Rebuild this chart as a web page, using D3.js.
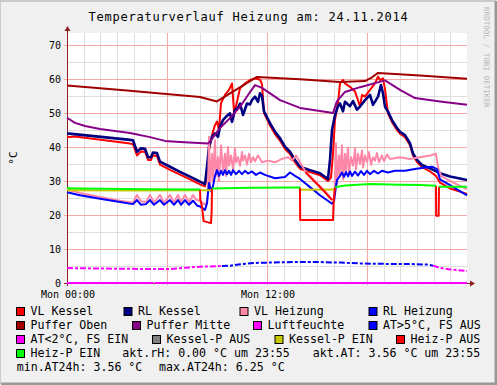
<!DOCTYPE html>
<html>
<head>
<meta charset="utf-8">
<script src="https://cdn.jsdelivr.net/npm/d3@7"></script>
<style>
  body { margin: 0; background: #fff; }
  text { font-family: "DejaVu Sans Mono", monospace; }
</style>
</head>
<body>
<div id="chart"></div>
<script>
const width = 497;
const height = 385;

// data: [hour, °C], null = no value
const vlKessel = [[0,42.9],[0.48,43.1],[3.78,41.0],[3.96,40.8],[4.2,37.5],[4.44,38.7],[4.68,38.6],[4.86,36.2],[5.04,36.2],[5.16,37.6],[5.4,37.3],[5.58,34.8],[6.18,33.3],[6.78,31.9],[7.38,30.5],[7.98,29.0],[8.28,28.4],[8.4,33.0],[8.52,39.0],[8.7,43.5],[8.88,46.5],[9.0,47.5],[9.12,45.0],[9.24,52.9],[9.48,55.3],[9.72,56.8],[9.9,58.7],[10.02,50.5],[10.14,52.0],[10.38,57.3],[10.68,58.7],[10.98,59.7],[11.28,60.2],[11.58,59.8],[11.7,58.5],[11.82,50.0],[12.18,46.3],[12.48,43.8],[12.78,41.9],[13.08,39.4],[13.38,37.9],[13.68,35.5],[13.98,33.6],[14.58,32.6],[15.18,31.7],[15.66,30.0],[15.84,31.0],[15.96,38.0],[16.08,48.0],[16.26,53.0],[16.38,58.7],[16.56,59.7],[16.68,58.7],[16.98,57.7],[17.28,56.3],[17.46,53.8],[17.58,51.9],[17.7,55.3],[17.88,54.8],[18.18,56.8],[18.48,58.7],[18.66,60.7],[18.78,59.7],[18.96,60.2],[19.08,57.0],[19.26,49.8],[19.5,47.3],[19.8,45.0],[19.98,43.9],[20.28,42.9],[20.58,40.5],[20.76,37.5],[21.0,35.6],[21.3,34.1],[21.78,32.8],[22.14,31.5],[22.38,29.5],[22.98,27.8],[24,26.2]];
const rlKessel = [[0,44.0],[3.78,42.1],[3.96,42.0],[4.2,38.6],[4.44,39.6],[4.68,39.5],[4.86,37.0],[5.04,37.0],[5.16,38.4],[5.4,38.2],[5.58,35.7],[6.18,34.2],[6.78,32.7],[7.38,31.3],[7.98,29.8],[8.28,29.1],[8.4,34.2],[8.52,40.1],[8.7,43.0],[8.88,44.0],[9.06,43.0],[9.18,46.0],[9.36,47.9],[9.54,48.9],[9.78,49.9],[9.9,47.4],[10.08,50.9],[10.26,51.5],[10.38,52.8],[10.56,49.4],[10.8,52.8],[10.98,52.5],[11.1,53.8],[11.28,54.8],[11.46,53.3],[11.58,55.8],[11.7,55.0],[11.82,50.5],[12.18,47.0],[12.48,44.5],[12.78,42.6],[13.08,40.1],[13.38,38.6],[13.68,36.2],[13.98,34.2],[14.58,33.2],[15.18,32.3],[15.66,30.6],[15.78,36.2],[15.9,45.0],[16.08,49.4],[16.26,52.0],[16.38,52.8],[16.56,50.5],[16.68,53.3],[16.98,52.0],[17.16,53.5],[17.4,51.0],[17.58,51.9],[17.88,53.8],[18.18,55.3],[18.36,52.4],[18.66,54.8],[18.84,58.2],[18.96,55.8],[19.08,51.9],[19.26,50.4],[19.5,47.9],[19.8,45.6],[19.98,44.5],[20.28,43.5],[20.58,41.1],[20.76,38.1],[21.0,36.2],[21.3,34.7],[21.78,33.7],[22.38,32.3],[22.98,31.3],[24,30.3]];
const vlHeizung = [[0,27.4],[0.78,26.5],[1.98,25.3],[3.18,24.2],[3.96,23.6],[4.2,25.9],[4.44,24.0],[4.74,23.8],[4.98,25.9],[5.22,23.6],[5.58,25.9],[5.82,23.6],[6.18,25.9],[6.42,23.6],[6.66,25.9],[6.84,23.8],[7.08,25.9],[7.32,23.8],[7.56,25.9],[7.74,24.5],[7.98,24.2],[8.28,23.0],[8.4,24.0],[8.46,27.0],[8.52,43.0],[8.58,28.5],[8.7,38.0],[8.76,30.0],[8.88,42.0],[8.94,31.5],[9.06,37.0],[9.12,30.0],[9.24,40.5],[9.36,33.0],[9.48,38.0],[9.54,31.5],[9.66,40.0],[9.72,34.5],[9.84,37.5],[9.96,33.5],[10.08,39.5],[10.14,35.5],[10.26,37.0],[10.38,34.5],[10.5,38.5],[10.56,36.0],[10.68,37.5],[10.8,34.8],[10.92,38.0],[11.04,35.5],[11.16,37.0],[11.28,35.8],[11.46,37.5],[11.7,35.5],[12.06,36.0],[12.48,35.5],[12.9,36.5],[13.26,37.0],[13.5,36.0],[13.74,37.5],[13.92,36.0],[14.28,33.0],[14.88,30.0],[15.48,27.0],[15.9,24.6],[16.02,25.0],[16.08,30.0],[16.14,41.0],[16.2,29.0],[16.32,37.5],[16.38,31.5],[16.5,40.5],[16.56,30.5],[16.68,38.0],[16.74,33.0],[16.86,39.8],[16.92,32.0],[17.04,37.0],[17.16,34.5],[17.28,39.5],[17.34,33.5],[17.46,38.0],[17.58,35.0],[17.7,39.0],[17.76,34.0],[17.88,37.5],[18.0,35.5],[18.12,38.5],[18.24,34.8],[18.36,37.0],[18.48,36.0],[18.6,38.2],[18.72,35.5],[18.9,37.5],[19.02,35.8],[19.2,37.8],[19.38,36.5],[19.98,37.0],[20.58,36.5],[21.18,37.0],[21.78,37.5],[22.14,38.0],[22.26,34.0],[22.44,31.5],[22.98,30.0],[24,27.6]];
const rlHeizung = [[0,26.7],[0.78,25.8],[1.98,24.8],[3.18,23.8],[3.96,23.2],[4.2,24.4],[4.44,23.0],[4.74,23.2],[4.98,24.4],[5.22,23.0],[5.58,24.4],[5.82,23.0],[6.18,24.4],[6.42,23.0],[6.66,24.4],[6.84,23.0],[7.08,24.4],[7.32,23.0],[7.56,24.2],[7.8,22.8],[7.98,22.5],[8.28,21.5],[8.4,23.5],[8.52,29.4],[8.64,27.0],[8.76,28.5],[8.88,31.5],[9.0,33.2],[9.12,31.5],[9.24,33.0],[9.36,31.8],[9.48,33.2],[9.6,32.0],[9.72,33.0],[9.84,31.8],[9.96,33.2],[10.14,32.0],[10.32,33.0],[10.5,32.0],[10.68,33.0],[10.86,32.2],[11.1,32.8],[11.34,31.8],[11.58,32.5],[11.88,31.8],[12.48,30.8],[13.08,31.2],[13.38,32.5],[13.68,31.5],[13.98,30.6],[14.58,28.2],[15.18,25.8],[15.9,23.3],[16.02,24.0],[16.14,28.5],[16.2,30.3],[16.38,31.5],[16.5,32.5],[16.62,31.2],[16.74,32.6],[16.86,31.4],[16.98,32.8],[17.1,31.5],[17.28,32.8],[17.46,31.6],[17.64,32.9],[17.82,31.8],[18.0,33.0],[18.18,32.0],[18.42,33.0],[18.66,32.2],[18.9,33.0],[19.26,32.5],[19.68,33.0],[20.28,33.0],[20.88,33.5],[21.48,34.0],[21.9,34.2],[22.2,33.5],[22.38,30.5],[22.98,28.8],[24,25.8]];
const pufferOben = [[0,58.1],[3.6,56.6],[7.98,54.7],[9.0,53.4],[11.4,60.6],[13.98,59.9],[16.38,59.1],[17.88,59.4],[18.3,60.5],[18.66,61.8],[21.18,61.0],[24,60.1]];
const pufferMitte = [[0,48.6],[0.48,47.1],[1.08,46.2],[1.98,45.3],[3.78,44.1],[4.98,42.9],[5.88,41.8],[6.78,41.5],[8.46,41.0],[8.7,42.4],[9.18,45.6],[9.78,48.5],[10.38,51.8],[10.86,55.3],[11.28,58.2],[11.7,57.4],[12.78,53.8],[13.98,51.5],[15.18,50.6],[15.96,50.0],[16.2,53.5],[16.68,56.2],[17.58,57.6],[19.08,59.6],[19.98,56.8],[20.88,54.4],[22.38,53.4],[24,52.4]];
const luftfeuchte = [[0,0],[5.2,0],[5.22,null],[5.28,0],[24,0]];
const atHoch = [[9.3,5.0],[9.8,5.1],[10.4,5.5],[11.3,5.9],[12.1,6.0],[14.0,6.2],[15.2,6.15],[16.4,6.0],[17.6,5.75],[19.4,5.6],[20.9,5.55],[21.7,5.4],[21.96,5.1]];
const atTief = [[0,4.4],[1.4,4.3],[3.2,4.2],[5.0,4.1],[6.2,4.1],[7.1,4.5],[8.0,4.8],[9.3,5.0],[9.32,null],[21.96,5.1],[22.4,4.4],[23.0,4.0],[24,3.5]];
const kesselPaus = [];
const kesselPein = [[0,27.3],[4,27.2],[8.76,27.3],[8.78,null],[13.9,27.4],[16.1,27.5]];
const heizPaus = [[7.98,27.5],[8.0,24.5],[8.1,22.5],[8.2,18.2],[8.64,17.6],[8.68,21.0],[8.7,27.8],[8.72,null],
  [13.98,28.1],[13.99,18.5],[15.96,18.5],[16.0,24.0],[16.08,28.2],[16.1,null],
  [14.3,32.6],[14.9,29.6],[15.5,26.6],[15.9,24.4],[15.92,null],
  [22.14,28.6],[22.15,19.8],[22.3,19.8],[22.32,28.3]];
const heizPein = [[0,27.9],[2,27.7],[5,27.6],[7.98,27.5],[8.0,null],[8.7,27.8],[11,28.0],[13.98,28.1],[14.0,null],[16.08,28.2],[16.7,28.7],[18.2,29.1],[20,28.9],[21.2,28.8],[22.14,28.6],[22.16,null],[22.32,28.3],[24,28.3]];

const series = [
  { name: "VL Kessel", data: vlKessel, color: "#ff0000", w: 2 },
  { name: "RL Kessel", data: rlKessel, color: "#000080", w: 2.6 },
  { name: "VL Heizung", data: vlHeizung, color: "#ff88a8", w: 2 },
  { name: "RL Heizung", data: rlHeizung, color: "#0000ff", w: 2 },
  { name: "Puffer Oben", data: pufferOben, color: "#a00000", w: 2 },
  { name: "Puffer Mitte", data: pufferMitte, color: "#880088", w: 2 },
  { name: "Luftfeuchte", data: luftfeuchte, color: "#ff00ff", w: 2 },
  { name: "AT>5°C, FS AUS", data: atHoch, color: "#0000ff", w: 2, dash: "6,2,3,2" },
  { name: "AT<2°C, FS EIN", data: atTief, color: "#ff00ff", w: 2, dash: "6,2,3,2" },
  { name: "Kessel-P AUS", data: kesselPaus, color: "#808080", w: 2 },
  { name: "Kessel-P EIN", data: kesselPein, color: "#c8c800", w: 2 },
  { name: "Heiz-P AUS", data: heizPaus, color: "#ff0000", w: 2 },
  { name: "Heiz-P EIN", data: heizPein, color: "#00ff00", w: 2 }
];

const yTicks = [0, 10, 20, 30, 40, 50, 60, 70];
const xLabels = [[0, "Mon 00:00"], [12, "Mon 12:00"]];

// legend layout: [row, box x, series index]
const legendPos = [
  [0, 16.5, 0], [0, 124, 1], [0, 240, 2], [0, 369, 3],
  [1, 16.5, 4], [1, 132.5, 5], [1, 253.5, 6], [1, 369, 7],
  [2, 16.5, 8], [2, 152.5, 9], [2, 275, 10], [2, 396.5, 11],
  [3, 16.5, 12]
];
const legendNotes = [
  [3, 122.3, "akt.rH: 0.00 °C um 23:55"],
  [3, 312.7, "akt.AT: 3.56 °C um 23:55"],
  [4, 16.7, "min.AT24h: 3.56 °C"],
  [4, 159, "max.AT24h: 6.25 °C"]
];

const plot = { left: 67, right: 467, top: 33, bottom: 283 };

const x = d3.scaleLinear().domain([0, 24]).range([plot.left, plot.right]);
const y = d3.scaleLinear().domain([0, 73.53]).range([plot.bottom, plot.top]);

const svg = d3.select("#chart")
  .append("svg")
  .attr("width", width)
  .attr("height", height);

// background + 3d frame
svg.append("rect").attr("width", width).attr("height", height).attr("fill", "#f0f0f0");
svg.append("path").attr("d", `M0,${height - 1}V1H${width - 1}`).attr("stroke", "#cbcbcb").attr("stroke-width", 2).attr("fill", "none");
svg.append("path").attr("d", `M1,${height - 1}H${width - 1}V1`).attr("stroke", "#999").attr("stroke-width", 3).attr("fill", "none");

svg.append("rect")
  .attr("x", plot.left).attr("y", plot.top)
  .attr("width", plot.right - plot.left).attr("height", plot.bottom - plot.top)
  .attr("fill", "#fff");

// grid
const grid = svg.append("g").attr("shape-rendering", "crispEdges");
grid.selectAll(".vmin")
  .data(d3.range(1, 24).filter(h => h % 6 !== 0))
  .join("line")
  .attr("x1", d => Math.round(x(d)) + 0.5).attr("x2", d => Math.round(x(d)) + 0.5)
  .attr("y1", plot.top).attr("y2", plot.bottom)
  .attr("stroke", "#dedede");
grid.selectAll(".hmin")
  .data(d3.range(5, 75, 10))
  .join("line")
  .attr("x1", plot.left).attr("x2", plot.right)
  .attr("y1", d => Math.round(y(d)) + 0.5).attr("y2", d => Math.round(y(d)) + 0.5)
  .attr("stroke", "#dedede");
grid.selectAll(".vmaj")
  .data([6, 12, 18])
  .join("line")
  .attr("x1", d => Math.round(x(d)) + 0.5).attr("x2", d => Math.round(x(d)) + 0.5)
  .attr("y1", plot.top).attr("y2", plot.bottom + 2)
  .attr("stroke", "#f4a8a8");
grid.selectAll(".hmaj")
  .data(yTicks.slice(1))
  .join("line")
  .attr("x1", plot.left - 3).attr("x2", plot.right)
  .attr("y1", d => Math.round(y(d)) + 0.5).attr("y2", d => Math.round(y(d)) + 0.5)
  .attr("stroke", "#f4a8a8");

// axis labels
svg.append("g")
  .selectAll("text")
  .data(yTicks)
  .join("text")
  .attr("x", 61)
  .attr("y", d => y(d) + 3.6)
  .attr("text-anchor", "end")
  .attr("font-size", "10px")
  .text(d => d);

svg.append("g")
  .selectAll("text")
  .data(xLabels)
  .join("text")
  .attr("x", d => x(d[0]) + 1)
  .attr("y", 298)
  .attr("text-anchor", "middle")
  .attr("font-size", "10px")
  .text(d => d[1]);

svg.append("text")
  .attr("transform", `translate(17,${(plot.top + plot.bottom) / 2}) rotate(-90)`)
  .attr("text-anchor", "middle")
  .attr("font-size", "11px")
  .text("°C");

// axes with arrows
const axisColor = "#902020";
svg.append("line")
  .attr("x1", plot.left + 0.5).attr("x2", plot.left + 0.5)
  .attr("y1", plot.bottom + 3).attr("y2", plot.top - 3)
  .attr("stroke", axisColor).attr("stroke-width", 1);
svg.append("path")
  .attr("d", `M${plot.left - 2.5},${plot.top - 2}L${plot.left + 0.5},${plot.top - 7}L${plot.left + 3.5},${plot.top - 2}Z`)
  .attr("fill", axisColor);
svg.append("line")
  .attr("x1", plot.left - 3).attr("x2", plot.right + 4)
  .attr("y1", plot.bottom + 0.5).attr("y2", plot.bottom + 0.5)
  .attr("stroke", axisColor).attr("stroke-width", 1);
svg.append("path")
  .attr("d", `M${plot.right + 3},${plot.bottom - 2.5}L${plot.right + 8},${plot.bottom + 0.5}L${plot.right + 3},${plot.bottom + 3.5}Z`)
  .attr("fill", axisColor);

// series
const line = d3.line()
  .defined(d => d[1] != null)
  .x(d => x(d[0]))
  .y(d => y(d[1]));

svg.append("g")
  .selectAll("path")
  .data(series.filter(s => s.data.length))
  .join("path")
  .attr("d", s => line(s.data))
  .attr("fill", "none")
  .attr("stroke", s => s.color)
  .attr("stroke-width", s => s.w)
  .attr("stroke-linejoin", "round")
  .attr("stroke-dasharray", s => s.dash || null);

// title
svg.append("text")
  .attr("x", width / 2)
  .attr("y", 21)
  .attr("text-anchor", "middle")
  .attr("font-size", "12px")
  .attr("letter-spacing", "0.78px")
  .text("Temperaturverlauf Heizung am: 24.11.2014");

// watermark
svg.append("text")
  .attr("transform", "translate(483.5,7) rotate(90)")
  .attr("font-size", "7.6px")
  .attr("fill", "#b8b8b8")
  .text("RRDTOOL / TOBI OETIKER");

// legend
const rowY = r => 315 + r * 14;
const leg = svg.append("g").attr("font-size", "11.6px");
leg.selectAll("rect")
  .data(legendPos)
  .join("rect")
  .attr("x", d => d[1])
  .attr("y", d => rowY(d[0]) - 7.5)
  .attr("width", 8)
  .attr("height", 8)
  .attr("fill", d => series[d[2]].color)
  .attr("stroke", "#000")
  .attr("stroke-width", 1);
leg.selectAll(".lab")
  .data(legendPos)
  .join("text")
  .attr("x", d => d[1] + 14)
  .attr("y", d => rowY(d[0]))
  .text(d => series[d[2]].name);
leg.selectAll(".note")
  .data(legendNotes)
  .join("text")
  .attr("x", d => d[1])
  .attr("y", d => rowY(d[0]))
  .text(d => d[2]);
</script>
</body>
</html>
